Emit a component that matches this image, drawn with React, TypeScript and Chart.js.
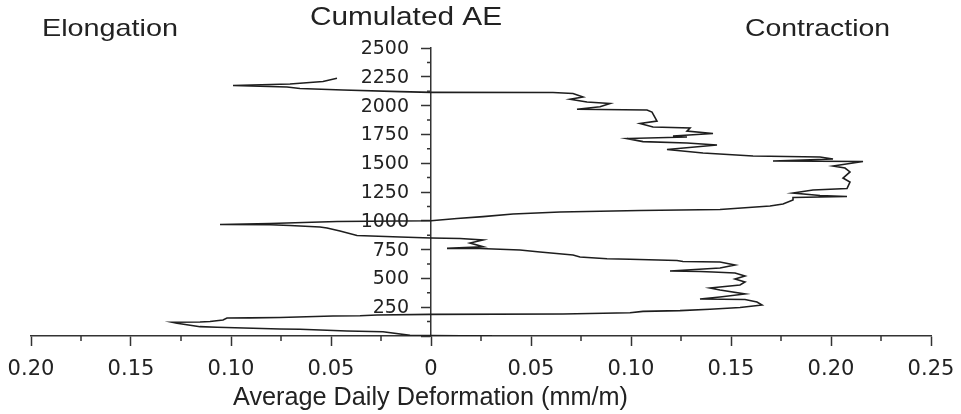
import React, { useEffect, useRef } from 'react';
import { Chart, registerables } from 'chart.js';

Chart.register(...registerables);

// Average daily deformation (mm/m); negative = elongation, positive = contraction
const deformation = [
  0.0305, 0, -0.0105, -0.024, -0.042, -0.0655, -0.0755, -0.107, -0.1155, -0.127,
  -0.1295, -0.1155, -0.1105, -0.104, -0.102, -0.0905, -0.0755, -0.049, -0.0355, -0.027,
  -0.0005, 0.066, 0.0995, 0.106, 0.1245, 0.1395, 0.1545, 0.1655, 0.163, 0.157,
  0.1345, 0.1445, 0.157, 0.1445, 0.1395, 0.1545, 0.157, 0.152, 0.157, 0.152,
  0.141, 0.1345, 0.1195, 0.1445, 0.152, 0.1445, 0.126, 0.123, 0.0995, 0.088,
  0.0745, 0.071, 0.0545, 0.0445, 0.0245, 0.008, 0.026, 0.0195, 0.026, 0.0145,
  0, -0.0155, -0.037, -0.0455, -0.052, -0.0555, -0.0705, -0.0805, -0.1055, -0.0805,
  -0.047, 0, 0.013, 0.026, 0.041, 0.0645, 0.1045, 0.1445, 0.1695, 0.176,
  0.181, 0.181, 0.208, 0.1945, 0.181, 0.191, 0.208, 0.2095, 0.206, 0.2095,
  0.207, 0.201, 0.216, 0.171, 0.201, 0.1945, 0.161, 0.136, 0.118, 0.143,
  0.128, 0.106, 0.098, 0.128, 0.121, 0.141, 0.128, 0.1295, 0.111, 0.1045,
  0.113, 0.1105, 0.108, 0.073, 0.0845, 0.0895, 0.078, 0.0695, 0.076, 0.071,
  0.061, 0, -0.0155, -0.044, -0.0655, -0.072, -0.099, -0.0705, -0.054, -0.047,
];

// Cumulated acoustic emission
const cumulatedAE = [
  0, 4, 6, 37, 43, 58, 61, 76, 81, 110,
  119, 122, 126, 139, 156, 157, 161, 174, 176, 182,
  188, 191, 202, 214, 220, 232, 247, 269, 295, 317,
  321, 339, 365, 399, 417, 443, 469, 495, 521, 547,
  556, 560, 564, 590, 616, 642, 647, 655, 666, 671,
  686, 703, 729, 747, 760, 761, 775, 807, 833, 846,
  851, 859, 872, 911, 937, 946, 959, 966, 968, 977,
  994, 1001, 1020, 1036, 1059, 1076, 1089, 1098, 1128, 1146,
  1180, 1202, 1211, 1220, 1241, 1267, 1280, 1337, 1371, 1424,
  1458, 1476, 1515, 1519, 1536, 1554, 1562, 1588, 1619, 1658,
  1675, 1687, 1714, 1727, 1736, 1758, 1779, 1805, 1814, 1845,
  1866, 1944, 1962, 1968, 1990, 2018, 2031, 2055, 2075, 2105,
  2114, 2115, 2121, 2135, 2148, 2161, 2174, 2187, 2209, 2237,
];

const xTickLabels = ['0.20', '0.15', '0.10', '0.05', '0', '0.05', '0.10', '0.15', '0.20', '0.25'];
const yTickLabels = ['', '250', '500', '750', '1000', '1250', '1500', '1750', '2000', '2250', '2500'];
const xMinorTicks = [-0.175, -0.125, -0.075, -0.025, 0.025, 0.075, 0.125, 0.175, 0.225];
const yMinorTicks = [125, 375, 625, 875, 1125, 1375, 1625, 1875, 2125, 2375];

const leftTitle = 'Elongation';
const centerTitle = 'Cumulated AE';
const rightTitle = 'Contraction';
const xAxisTitle = 'Average Daily Deformation (mm/m)';

const AXIS_COLOR = '#333';
const TEXT_COLOR = '#222';
const FONT = "'Liberation Sans', Arial, sans-serif";
const TICK_FONT = "'DejaVu Sans', sans-serif";

function drawFitted(ctx: CanvasRenderingContext2D, text: string, left: number, right: number, cy: number, size: number) {
  ctx.save();
  ctx.font = `${size}px ${FONT}`;
  ctx.fillStyle = TEXT_COLOR;
  ctx.textAlign = 'center';
  ctx.textBaseline = 'middle';
  const w = ctx.measureText(text).width;
  const sx = (right - left) / w;
  ctx.translate((left + right) / 2, cy);
  ctx.scale(sx, 1);
  ctx.fillText(text, 0, 0);
  ctx.restore();
}

const decorPlugin = {
  id: 'decor',
  afterDraw(chart: any) {
    const ctx = chart.ctx as CanvasRenderingContext2D;
    const xs = chart.scales.x;
    const ys = chart.scales.y;
    const x0 = xs.getPixelForValue(0);
    const yb = ys.getPixelForValue(0);
    ctx.save();
    ctx.strokeStyle = AXIS_COLOR;
    ctx.lineWidth = 1.5;
    ctx.beginPath();
    for (const v of xMinorTicks) {
      const px = xs.getPixelForValue(v);
      ctx.moveTo(px, yb);
      ctx.lineTo(px, yb + 5);
    }
    for (const v of yMinorTicks) {
      const py = ys.getPixelForValue(v);
      ctx.moveTo(x0, py);
      ctx.lineTo(x0 - 4, py);
    }
    ctx.stroke();

    // y tick labels, right-aligned left of the centre axis
    ctx.font = `19px ${TICK_FONT}`;
    ctx.fillStyle = TEXT_COLOR;
    ctx.textAlign = 'right';
    ctx.textBaseline = 'middle';
    yTickLabels.forEach((label, i) => {
      if (!label) return;
      ctx.fillText(label, x0 - 22, ys.getPixelForValue(i * 250) + 1);
    });
    ctx.restore();

    drawFitted(ctx, leftTitle, 42, 178, 29, 24);
    drawFitted(ctx, centerTitle, 310, 502, 18, 26);
    drawFitted(ctx, rightTitle, 745, 890, 29, 24);
    drawFitted(ctx, xAxisTitle, 233, 628, 398, 26);
  },
};

export default function App() {
  const ref = useRef<HTMLCanvasElement>(null);
  useEffect(() => {
    document.body.style.margin = '0';
    const points = deformation.map((d, i) => ({ x: d, y: cumulatedAE[i] }));
    const chart = new Chart(ref.current as HTMLCanvasElement, {
      type: 'scatter',
      data: {
        datasets: [
          {
            data: points,
            showLine: true,
            borderColor: '#1e1e1e',
            borderWidth: 1.6,
            pointRadius: 0,
            tension: 0,
            fill: false,
          },
        ],
      },
      options: {
        animation: false,
        responsive: false,
        events: [],
        layout: { padding: { left: 31, right: 30, top: 48, bottom: 0 } },
        plugins: { legend: { display: false }, tooltip: { enabled: false }, title: { display: false } },
        scales: {
          x: {
            type: 'linear',
            position: 'bottom',
            min: -0.2,
            max: 0.25,
            afterBuildTicks: (scale: any) => {
              scale.ticks = xTickLabels.map((_, i) => ({ value: -0.2 + i * 0.05 }));
            },
            afterFit: (scale: any) => {
              scale.height = 78;
              scale.paddingLeft = 0;
              scale.paddingRight = 0;
            },
            grid: {
              drawOnChartArea: false,
              drawTicks: true,
              tickLength: 10,
              tickWidth: 1.5,
              tickColor: AXIS_COLOR,
            },
            border: { display: true, color: AXIS_COLOR, width: 1.5 },
            ticks: {
              autoSkip: false,
              maxRotation: 0,
              padding: 11,
              color: TEXT_COLOR,
              font: { family: TICK_FONT, size: 21 },
              callback: (_v: any, i: number) => xTickLabels[i],
            },
          },
          y: {
            type: 'linear',
            position: { x: 0 } as any,
            min: 0,
            max: 2500,
            afterBuildTicks: (scale: any) => {
              scale.ticks = yTickLabels.map((_, i) => ({ value: i * 250 }));
            },
            grid: {
              drawOnChartArea: false,
              drawTicks: true,
              tickLength: 9,
              tickWidth: 1.5,
              tickColor: AXIS_COLOR,
            },
            border: { display: true, color: AXIS_COLOR, width: 1.5 },
            ticks: {
              autoSkip: false,
              color: 'rgba(0,0,0,0)',
              font: { family: TICK_FONT, size: 19 },
              callback: () => '',
            },
          },
        },
      },
      plugins: [decorPlugin],
    } as any);
    return () => chart.destroy();
  }, []);
  return (
    <div style={{ width: 961, height: 414 }}>
      <canvas ref={ref} width={961} height={414} style={{ display: 'block' }} />
    </div>
  );
}
